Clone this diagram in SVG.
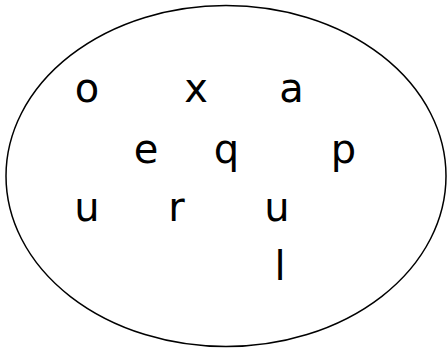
<svg xmlns="http://www.w3.org/2000/svg" width="448" height="348" viewBox="0 0 448 348">
<style>
.t{font-family:"DejaVu Sans",Verdana,sans-serif;font-size:40px;fill:#000;text-anchor:middle}
</style>
<rect width="448" height="348" fill="#fff"/>
<g id="set">
<ellipse cx="226" cy="176" rx="220" ry="170.5" fill="none" stroke="#000" stroke-width="1.5"/>
</g>
<g id="n-o"><text class="t" x="87" y="102">o</text></g>
<g id="n-x"><text class="t" x="196" y="102">x</text></g>
<g id="n-a"><text class="t" x="291.5" y="102">a</text></g>
<g id="n-e"><text class="t" x="146" y="163">e</text></g>
<g id="n-q"><text class="t" x="226.5" y="163">q</text></g>
<g id="n-p"><text class="t" x="343.5" y="163">p</text></g>
<g id="n-u1"><text class="t" x="87" y="221">u</text></g>
<g id="n-r"><text class="t" x="176.5" y="221">r</text></g>
<g id="n-u2"><text class="t" x="277" y="221">u</text></g>
<g id="n-l"><text class="t" x="280" y="280">l</text></g>
<g id="connectors"></g>
</svg>
